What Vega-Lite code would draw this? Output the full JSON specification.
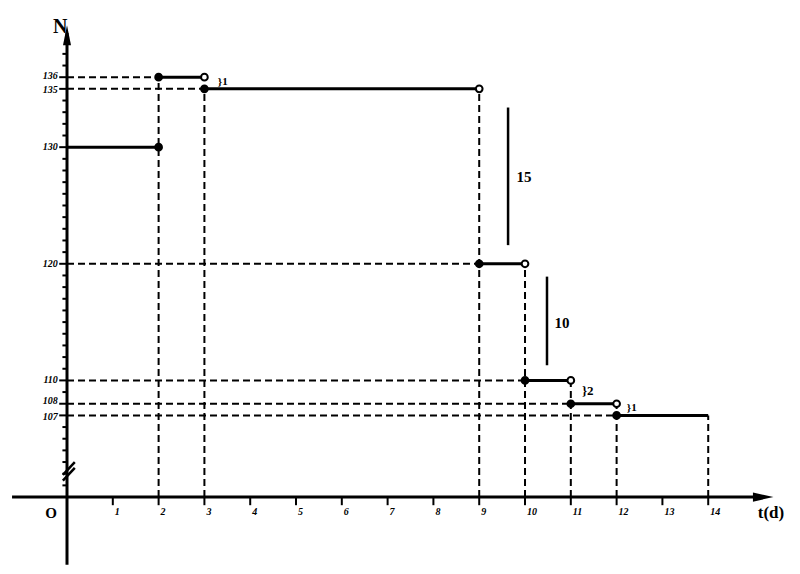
{
  "$schema": "https://vega.github.io/schema/vega-lite/v6.json",
  "width": 800,
  "height": 574,
  "autosize": {"type": "fit", "contains": "padding"},
  "padding": 0,
  "background": "white",
  "config": {"view": {"stroke": null}},
  "datasets": {
    "axes": [
      {"x": -1.2, "x2": 15.1, "y": 100, "y2": 100},
      {"x": 0, "x2": 0, "y": 94.2, "y2": 139.8}
    ],
    "steps": [
      {"x": 0, "x2": 2, "y": 130, "y2": 130},
      {"x": 2, "x2": 3, "y": 136, "y2": 136},
      {"x": 3, "x2": 9, "y": 135, "y2": 135},
      {"x": 9, "x2": 10, "y": 120, "y2": 120},
      {"x": 10, "x2": 11, "y": 110, "y2": 110},
      {"x": 11, "x2": 12, "y": 108, "y2": 108},
      {"x": 12, "x2": 14, "y": 107, "y2": 107}
    ],
    "guides": [
      {"x": 0, "x2": 2, "y": 136, "y2": 136},
      {"x": 0, "x2": 3, "y": 135, "y2": 135},
      {"x": 0, "x2": 9, "y": 120, "y2": 120},
      {"x": 0, "x2": 10, "y": 110, "y2": 110},
      {"x": 0, "x2": 11, "y": 108, "y2": 108},
      {"x": 0, "x2": 12, "y": 107, "y2": 107},
      {"x": 2, "x2": 2, "y": 100, "y2": 136},
      {"x": 3, "x2": 3, "y": 100, "y2": 135},
      {"x": 9, "x2": 9, "y": 100, "y2": 135},
      {"x": 10, "x2": 10, "y": 100, "y2": 120},
      {"x": 11, "x2": 11, "y": 100, "y2": 110},
      {"x": 12, "x2": 12, "y": 100, "y2": 108},
      {"x": 14, "x2": 14, "y": 100, "y2": 107}
    ],
    "brackets": [
      {"x": 9.63, "x2": 9.63, "y": 133.4, "y2": 121.6},
      {"x": 10.48, "x2": 10.48, "y": 118.9, "y2": 111.3},
      {"x": -0.09, "x2": 0.17, "y": 101.9, "y2": 103.0},
      {"x": -0.09, "x2": 0.17, "y": 101.4, "y2": 102.5}
    ],
    "xticks": [
      {"x": 1, "x2": 1, "y": 100, "y2": 99.3},
      {"x": 2, "x2": 2, "y": 100, "y2": 99.3},
      {"x": 3, "x2": 3, "y": 100, "y2": 99.3},
      {"x": 4, "x2": 4, "y": 100, "y2": 99.3},
      {"x": 5, "x2": 5, "y": 100, "y2": 99.3},
      {"x": 6, "x2": 6, "y": 100, "y2": 99.3},
      {"x": 7, "x2": 7, "y": 100, "y2": 99.3},
      {"x": 8, "x2": 8, "y": 100, "y2": 99.3},
      {"x": 9, "x2": 9, "y": 100, "y2": 99.3},
      {"x": 10, "x2": 10, "y": 100, "y2": 99.3},
      {"x": 11, "x2": 11, "y": 100, "y2": 99.3},
      {"x": 12, "x2": 12, "y": 100, "y2": 99.3},
      {"x": 13, "x2": 13, "y": 100, "y2": 99.3},
      {"x": 14, "x2": 14, "y": 100, "y2": 99.3}
    ],
    "yticks": [
      {"x": -0.1, "x2": 0, "y": 101, "y2": 101},
      {"x": -0.1, "x2": 0, "y": 102, "y2": 102},
      {"x": -0.1, "x2": 0, "y": 103, "y2": 103},
      {"x": -0.1, "x2": 0, "y": 104, "y2": 104},
      {"x": -0.1, "x2": 0, "y": 105, "y2": 105},
      {"x": -0.1, "x2": 0, "y": 106, "y2": 106},
      {"x": -0.17, "x2": 0, "y": 107, "y2": 107},
      {"x": -0.17, "x2": 0, "y": 108, "y2": 108},
      {"x": -0.1, "x2": 0, "y": 109, "y2": 109},
      {"x": -0.17, "x2": 0, "y": 110, "y2": 110},
      {"x": -0.1, "x2": 0, "y": 111, "y2": 111},
      {"x": -0.1, "x2": 0, "y": 112, "y2": 112},
      {"x": -0.1, "x2": 0, "y": 113, "y2": 113},
      {"x": -0.1, "x2": 0, "y": 114, "y2": 114},
      {"x": -0.1, "x2": 0, "y": 115, "y2": 115},
      {"x": -0.1, "x2": 0, "y": 116, "y2": 116},
      {"x": -0.1, "x2": 0, "y": 117, "y2": 117},
      {"x": -0.1, "x2": 0, "y": 118, "y2": 118},
      {"x": -0.1, "x2": 0, "y": 119, "y2": 119},
      {"x": -0.17, "x2": 0, "y": 120, "y2": 120},
      {"x": -0.1, "x2": 0, "y": 121, "y2": 121},
      {"x": -0.1, "x2": 0, "y": 122, "y2": 122},
      {"x": -0.1, "x2": 0, "y": 123, "y2": 123},
      {"x": -0.1, "x2": 0, "y": 124, "y2": 124},
      {"x": -0.1, "x2": 0, "y": 125, "y2": 125},
      {"x": -0.1, "x2": 0, "y": 126, "y2": 126},
      {"x": -0.1, "x2": 0, "y": 127, "y2": 127},
      {"x": -0.1, "x2": 0, "y": 128, "y2": 128},
      {"x": -0.1, "x2": 0, "y": 129, "y2": 129},
      {"x": -0.17, "x2": 0, "y": 130, "y2": 130},
      {"x": -0.1, "x2": 0, "y": 131, "y2": 131},
      {"x": -0.1, "x2": 0, "y": 132, "y2": 132},
      {"x": -0.1, "x2": 0, "y": 133, "y2": 133},
      {"x": -0.1, "x2": 0, "y": 134, "y2": 134},
      {"x": -0.17, "x2": 0, "y": 135, "y2": 135},
      {"x": -0.17, "x2": 0, "y": 136, "y2": 136},
      {"x": -0.1, "x2": 0, "y": 137, "y2": 137},
      {"x": -0.1, "x2": 0, "y": 138, "y2": 138}
    ],
    "points": [
      {"x": 2, "y": 130, "kind": "filled"},
      {"x": 2, "y": 136, "kind": "filled"},
      {"x": 3, "y": 136, "kind": "open"},
      {"x": 3, "y": 135, "kind": "filled"},
      {"x": 9, "y": 135, "kind": "open"},
      {"x": 9, "y": 120, "kind": "filled"},
      {"x": 10, "y": 120, "kind": "open"},
      {"x": 10, "y": 110, "kind": "filled"},
      {"x": 11, "y": 110, "kind": "open"},
      {"x": 11, "y": 108, "kind": "filled"},
      {"x": 12, "y": 108, "kind": "open"},
      {"x": 12, "y": 107, "kind": "filled"}
    ],
    "arrows": [
      {"x": 15.2, "y": 100, "dir": "right"},
      {"x": 0, "y": 139.6, "dir": "up"}
    ],
    "ylabels": [
      {"x": -0.2, "y": 136.1, "text": "136"},
      {"x": -0.2, "y": 134.9, "text": "135"},
      {"x": -0.2, "y": 130, "text": "130"},
      {"x": -0.2, "y": 120, "text": "120"},
      {"x": -0.2, "y": 110, "text": "110"},
      {"x": -0.2, "y": 108.2, "text": "108"},
      {"x": -0.2, "y": 106.9, "text": "107"}
    ],
    "xlabels": [
      {"x": 1, "y": 98.7, "text": "1"},
      {"x": 2, "y": 98.7, "text": "2"},
      {"x": 3, "y": 98.7, "text": "3"},
      {"x": 4, "y": 98.7, "text": "4"},
      {"x": 5, "y": 98.7, "text": "5"},
      {"x": 6, "y": 98.7, "text": "6"},
      {"x": 7, "y": 98.7, "text": "7"},
      {"x": 8, "y": 98.7, "text": "8"},
      {"x": 9, "y": 98.7, "text": "9"},
      {"x": 10, "y": 98.7, "text": "10"},
      {"x": 11, "y": 98.7, "text": "11"},
      {"x": 12, "y": 98.7, "text": "12"},
      {"x": 13, "y": 98.7, "text": "13"},
      {"x": 14, "y": 98.7, "text": "14"}
    ],
    "titles": [
      {"x": -0.15, "y": 140.3, "text": "N", "size": 20},
      {"x": 15.37, "y": 98.6, "text": "t(d)", "size": 17},
      {"x": -0.35, "y": 98.6, "text": "O", "size": 15}
    ],
    "notes": [
      {"x": 9.98, "y": 127.4, "text": "15", "size": 15},
      {"x": 10.81, "y": 114.9, "text": "10", "size": 15},
      {"x": 3.4, "y": 135.6, "text": "}1", "size": 11},
      {"x": 11.37, "y": 109.1, "text": "}2", "size": 13},
      {"x": 12.33, "y": 107.6, "text": "}1", "size": 11}
    ]
  },
  "encoding": {
    "x": {"field": "x", "type": "quantitative", "scale": {"domain": [-1.463, 16.004], "nice": false, "zero": false}, "axis": null},
    "y": {"field": "y", "type": "quantitative", "scale": {"domain": [93.4, 142.62], "nice": false, "zero": false}, "axis": null}
  },
  "layer": [
    {
      "data": {"name": "guides"},
      "mark": {"type": "rule", "color": "black", "strokeWidth": 2, "strokeDash": [7, 4]},
      "encoding": {"x2": {"field": "x2"}, "y2": {"field": "y2"}}
    },
    {
      "data": {"name": "axes"},
      "mark": {"type": "rule", "color": "black", "strokeWidth": 3},
      "encoding": {"x2": {"field": "x2"}, "y2": {"field": "y2"}}
    },
    {
      "data": {"name": "steps"},
      "mark": {"type": "rule", "color": "black", "strokeWidth": 3},
      "encoding": {"x2": {"field": "x2"}, "y2": {"field": "y2"}}
    },
    {
      "data": {"name": "brackets"},
      "mark": {"type": "rule", "color": "black", "strokeWidth": 2.5},
      "encoding": {"x2": {"field": "x2"}, "y2": {"field": "y2"}}
    },
    {
      "data": {"name": "xticks"},
      "mark": {"type": "rule", "color": "black", "strokeWidth": 2},
      "encoding": {"x2": {"field": "x2"}, "y2": {"field": "y2"}}
    },
    {
      "data": {"name": "yticks"},
      "mark": {"type": "rule", "color": "black", "strokeWidth": 2},
      "encoding": {"x2": {"field": "x2"}, "y2": {"field": "y2"}}
    },
    {
      "data": {"name": "points"},
      "mark": {"type": "point", "shape": "circle", "filled": true, "stroke": "black", "strokeWidth": 2, "size": 45, "opacity": 1},
      "encoding": {
        "fill": {"field": "kind", "type": "nominal", "scale": {"domain": ["filled", "open"], "range": ["black", "white"]}, "legend": null}
      }
    },
    {
      "data": {"name": "arrows"},
      "transform": [{"filter": "datum.dir == 'right'"}],
      "mark": {"type": "point", "shape": "M-1,-0.45L1,0L-1,0.45Z", "filled": true, "color": "black", "size": 420, "opacity": 1}
    },
    {
      "data": {"name": "arrows"},
      "transform": [{"filter": "datum.dir == 'up'"}],
      "mark": {"type": "point", "shape": "M-0.4,1L0,-1L0.4,1Z", "filled": true, "color": "black", "size": 400, "opacity": 1}
    },
    {
      "data": {"name": "ylabels"},
      "mark": {"type": "text", "align": "right", "baseline": "middle", "font": "Liberation Serif", "fontStyle": "italic", "fontWeight": "bold", "fontSize": 10, "color": "black"},
      "encoding": {"text": {"field": "text"}}
    },
    {
      "data": {"name": "xlabels"},
      "mark": {"type": "text", "align": "left", "baseline": "middle", "dx": 2, "font": "Liberation Serif", "fontStyle": "italic", "fontWeight": "bold", "fontSize": 10, "color": "black"},
      "encoding": {"text": {"field": "text"}}
    },
    {
      "data": {"name": "titles"},
      "mark": {"type": "text", "align": "center", "baseline": "middle", "font": "Liberation Serif", "fontWeight": "bold", "color": "black"},
      "encoding": {"text": {"field": "text"}, "size": {"field": "size", "type": "quantitative", "scale": null}}
    },
    {
      "data": {"name": "notes"},
      "mark": {"type": "text", "align": "center", "baseline": "middle", "font": "Liberation Serif", "fontWeight": "bold", "color": "black"},
      "encoding": {"text": {"field": "text"}, "size": {"field": "size", "type": "quantitative", "scale": null}}
    }
  ]
}
